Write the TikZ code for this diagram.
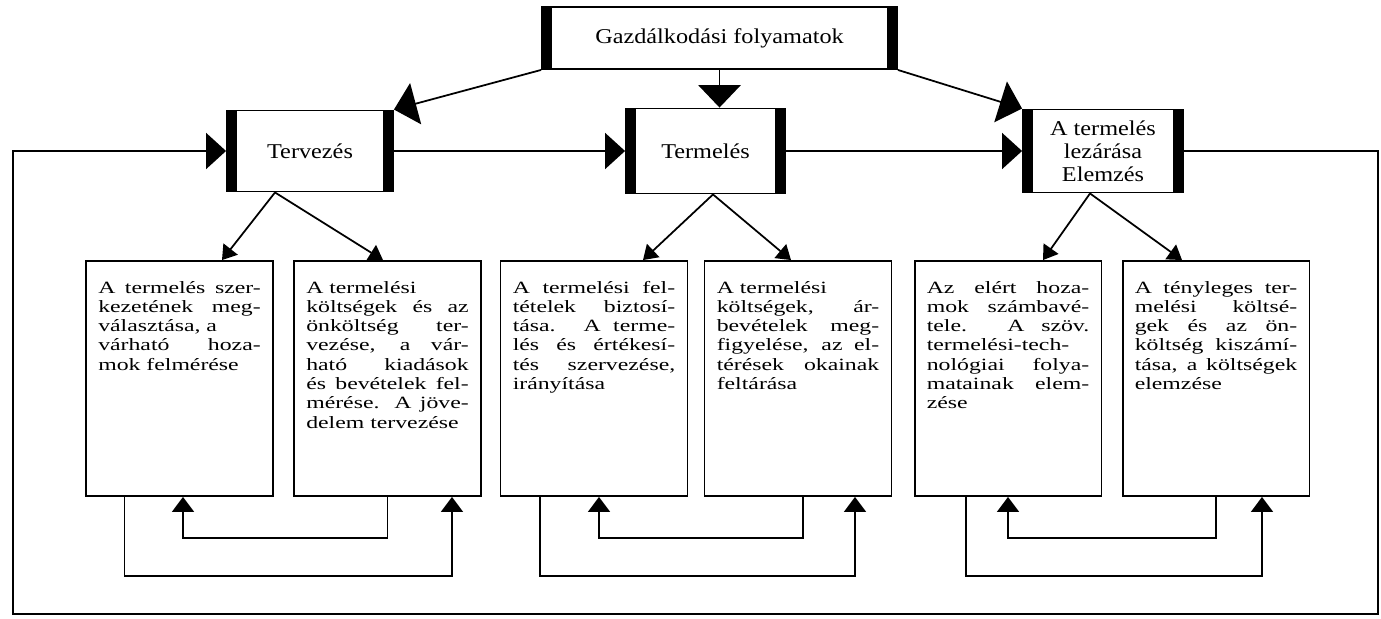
\documentclass[tikz,border=0pt]{standalone}
\usepackage{fontspec}
\setmainfont{Liberation Serif}
\newfontfamily\headfont[FakeStretch=1.15]{Liberation Serif}
\newfontfamily\boxfont[FakeStretch=1.38]{Liberation Serif}
\usetikzlibrary{arrows.meta}

\begin{document}
\begin{tikzpicture}[x=0.02cm, y=-0.02cm, line width=1pt,
    procbox/.style={draw, line width=1.1pt, inner sep=0pt, align=center,
      font=\headfont\fontsize{12}{13}\selectfont,
      path picture={
        \fill (path picture bounding box.north west) rectangle ([xshift=0.2cm]path picture bounding box.south west);
        \fill (path picture bounding box.north east) rectangle ([xshift=-0.2cm]path picture bounding box.south east);
      }},
    taskbox/.style={draw, line width=1.1pt, text width=3.25cm, align=justify,
      inner xsep=0.245cm, inner ysep=0pt, text height=0.64cm, text depth=4.06cm,
      font=\boxfont\fontsize{9.8}{11}\selectfont},
    bigarrow/.style={-{Triangle[width=0.85cm,length=0.45cm]}},
    sidearrow/.style={-{Triangle[width=0.72cm,length=0.4cm]}},
    childarrow/.style={-{Triangle[width=0.36cm,length=0.28cm]}},
    looparrow/.style={-{Triangle[width=0.44cm,length=0.3cm]}}]
  \useasboundingbox (0,0) rectangle (1381,618);

  % main process
  \node [procbox, minimum width=7.1cm, minimum height=1.24cm] (gazd) at (719.5,38) {Gazdálkodási folyamatok};
  \node [procbox, minimum width=3.32cm, minimum height=1.62cm] (terv) at (310,151) {Tervezés};
  \node [procbox, minimum width=3.18cm, minimum height=1.7cm] (term) at (705.5,151) {Termelés};
  \node [procbox, minimum width=3.2cm, minimum height=1.66cm] (lez) at (1103,151) {A termelés\\lezárása\\Elemzés};

  % tasks
  \node [taskbox] (b1) at (179.5,378.5) {A termelés szer-\linebreak kezetének meg-\linebreak választása, a\\ várható hoza-\linebreak mok felmérése};
  \node [taskbox] (b2) at (387.5,378.5) {A termelési\\ költségek és az\linebreak önköltség ter-\linebreak vezése, a vár-\linebreak ható kiadások\linebreak és bevételek fel-\linebreak mérése. A jöve-\linebreak delem tervezése};
  \node [taskbox] (b3) at (594,378.5) {A termelési fel-\linebreak tételek biztosí-\linebreak tása. A terme-\linebreak lés és értékesí-\linebreak tés szervezése,\linebreak irányítása};
  \node [taskbox] (b4) at (798,378.5) {A termelési\\ költségek, ár-\linebreak bevételek meg-\linebreak figyelése, az el-\linebreak térések okainak\linebreak feltárása};
  \node [taskbox] (b5) at (1008,378.5) {Az elért hoza-\linebreak mok számbavé-\linebreak tele. A szöv.\linebreak termelési-tech-\linebreak nológiai folya-\linebreak matainak elem-\linebreak zése};
  \node [taskbox] (b6) at (1216,378.5) {A tényleges ter-\linebreak melési költsé-\linebreak gek és az ön-\linebreak költség kiszámí-\linebreak tása, a költségek\linebreak elemzése};

  % top level
  \draw [bigarrow] (gazd.south west) -- (terv.north east);
  \draw [bigarrow] (gazd.south) -- (gazd.south |- term.north);
  \draw [bigarrow] (gazd.south east) -- (lez.north west);
  \draw [sidearrow] (terv.east) -- (term.west);
  \draw [sidearrow] (term.east) -- (lez.west);

  % feedback round the whole
  \coordinate (rimr) at (1378,614);
  \coordinate (riml) at (13,614);
  \draw [sidearrow] (lez.east) -| (rimr) -- (riml) |- (terv.west);

  % children
  \draw [childarrow] ([xshift=-0.7cm]terv.south) -- ([xshift=0.85cm]b1.north);
  \draw [childarrow] ([xshift=-0.7cm]terv.south) -- ([xshift=-0.09cm]b2.north);
  \draw [childarrow] ([xshift=0.15cm]term.south) -- ([xshift=0.98cm]b3.north);
  \draw [childarrow] ([xshift=0.15cm]term.south) -- ([xshift=-0.14cm]b4.north);
  \draw [childarrow] ([xshift=-0.26cm]lez.south) -- ([xshift=0.7cm]b5.north);
  \draw [childarrow] ([xshift=-0.26cm]lez.south) -- ([xshift=-0.68cm]b6.north);

  % loops under the tasks
  \draw [looparrow] ([xshift=-1.1cm]b1.south) -- ++(0,-1.58cm) -| ([xshift=1.29cm]b2.south);
  \draw [looparrow] (b2.south) -- ++(0,-0.82cm) -| ([xshift=0.07cm]b1.south);
  \draw [looparrow] ([xshift=-1.08cm]b3.south) -- ++(0,-1.58cm) -| ([xshift=1.14cm]b4.south);
  \draw [looparrow] ([xshift=0.1cm]b4.south) -- ++(0,-0.82cm) -| ([xshift=0.1cm]b3.south);
  \draw [looparrow] ([xshift=-0.84cm]b5.south) -- ++(0,-1.58cm) -| ([xshift=0.92cm]b6.south);
  \draw [looparrow] (b6.south) -- ++(0,-0.82cm) -| (b5.south);
\end{tikzpicture}
\end{document}
